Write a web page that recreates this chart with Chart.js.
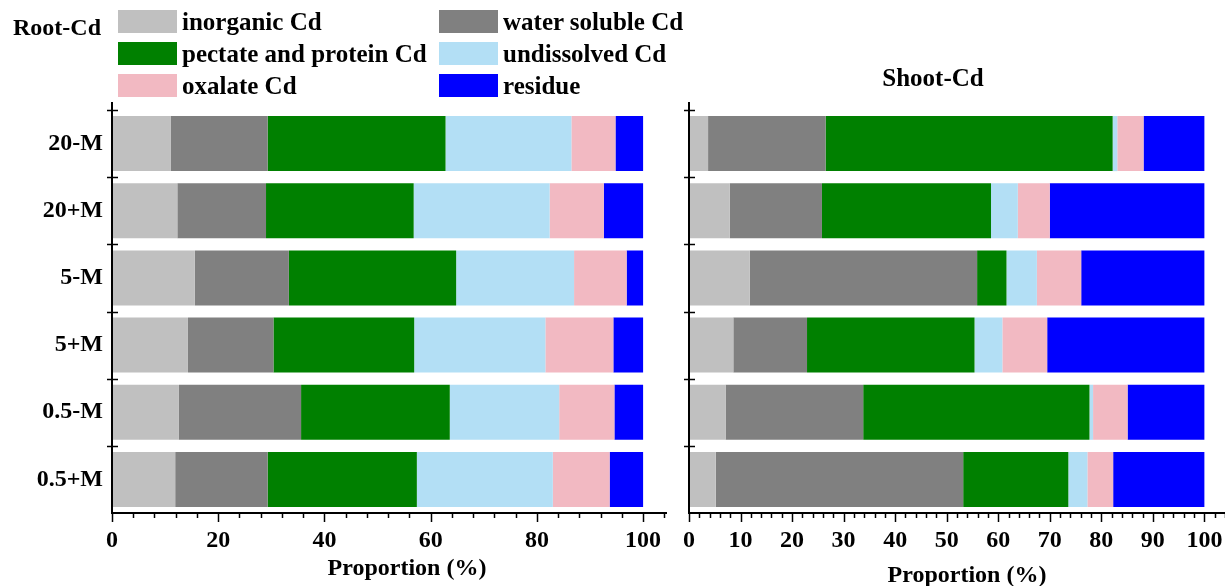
<!DOCTYPE html>
<html>
<head>
<meta charset="utf-8">
<script src="https://cdn.jsdelivr.net/npm/chart.js@4/dist/chart.umd.min.js"></script>
<style>
  html, body { margin:0; padding:0; background:#fff; }
  body { width:1225px; height:586px; position:relative; overflow:hidden;
         font-family:'Liberation Serif','Times New Roman',serif; font-weight:bold; color:#000; }
  canvas { position:absolute; top:0; }
  .txt { position:absolute; white-space:nowrap; line-height:1; }
  .box { position:absolute; }
</style>
</head>
<body>
<canvas id="root" width="680" height="586" style="left:0px"></canvas>
<canvas id="shoot" width="580" height="586" style="left:670px"></canvas>
<div id="overlay"></div>
<script>
// ---- data ----
const categories = ['20-M', '20+M', '5-M', '5+M', '0.5-M', '0.5+M'];
const seriesNames = ['inorganic Cd', 'water soluble Cd', 'pectate and protein Cd', 'undissolved Cd', 'oxalate Cd', 'residue'];
const seriesColors = ['#c0c0c0', '#808080', '#008000', '#b3dff5', '#f2b9c2', '#0000ff'];

// Root-Cd proportions (%)
const rootInorganic   = [11.1, 12.3, 15.6, 14.3, 12.6, 11.9];
const rootWater       = [18.2, 16.7, 17.7, 16.1, 23.0, 17.4];
const rootPectate     = [33.5, 27.8, 31.5, 26.5, 28.0, 28.1];
const rootUndissolved = [23.7, 25.6, 22.2, 24.7, 20.6, 25.6];
const rootOxalate     = [8.3, 10.2, 9.9, 12.8, 10.4, 10.7];
const rootResidue     = [5.2, 7.4, 3.1, 5.6, 5.4, 6.3];

// Shoot-Cd proportions (%)
const shootInorganic   = [3.7, 7.9, 11.8, 8.6, 7.1, 5.2];
const shootWater       = [22.8, 17.9, 44.1, 14.3, 26.7, 48.0];
const shootPectate     = [55.7, 32.8, 5.7, 32.5, 43.9, 20.4];
const shootUndissolved = [0.9, 5.2, 5.9, 5.4, 0.7, 3.7];
const shootOxalate     = [5.1, 6.2, 8.6, 8.7, 6.7, 5.0];
const shootResidue     = [11.8, 30.0, 23.9, 30.5, 14.9, 17.7];

const rootTicks  = [0, 20, 40, 60, 80, 100];
const shootTicks = [0, 10, 20, 30, 40, 50, 60, 70, 80, 90, 100];

// ---- helpers ----
const FONT = "'Liberation Serif', 'Times New Roman', serif";
Chart.defaults.font.family = FONT;
Chart.defaults.color = '#000';

function makeDatasets(arrs) {
  return arrs.map((d, i) => ({
    label: seriesNames[i], data: d, backgroundColor: seriesColors[i],
    borderWidth: 0, barPercentage: 0.82, categoryPercentage: 1.0
  }));
}

const axesPlugin = {
  id: 'axesPlugin',
  afterDraw(chart, args, opts) {
    const ctx = chart.ctx, ca = chart.chartArea;
    const xs = chart.scales.x, ys = chart.scales.y;
    ctx.save();
    ctx.strokeStyle = '#000';
    // x axis line
    ctx.lineWidth = 2;
    ctx.beginPath(); ctx.moveTo(ca.left - 1, ca.bottom); ctx.lineTo(ca.right, ca.bottom); ctx.stroke();
    // y axis line
    ctx.beginPath(); ctx.moveTo(ca.left, ca.top - 8); ctx.lineTo(ca.left, ca.bottom); ctx.stroke();
    // x ticks (major + minor)
    ctx.lineWidth = 1.5;
    for (let v = 0; v <= xs.max + 1e-9; v += opts.minor) {
      const isMajor = Math.abs(v / opts.major - Math.round(v / opts.major)) < 1e-6;
      const px = Math.round(xs.getPixelForValue(v)) + 0.5;
      ctx.beginPath(); ctx.moveTo(px, ca.bottom); ctx.lineTo(px, ca.bottom + (isMajor ? 9 : 5)); ctx.stroke();
    }
    // y ticks at category top edges
    for (let i = 0; i < categories.length; i++) {
      const c = ys.getPixelForValue(i);
      const next = ys.getPixelForValue(i + 1 < categories.length ? i + 1 : i - 1);
      const half = Math.abs(next - c) / 2;
      const py = Math.round(c - half) + 0.5;
      ctx.beginPath(); ctx.moveTo(ca.left - 5, py); ctx.lineTo(ca.left + 6, py); ctx.stroke();
    }
    ctx.restore();
  }
};

function makeChart(id, arrs, opt) {
  return new Chart(document.getElementById(id), {
    type: 'bar',
    data: { labels: categories, datasets: makeDatasets(arrs) },
    plugins: [axesPlugin],
    options: {
      indexAxis: 'y', responsive: false, animation: false, devicePixelRatio: 1,
      layout: { padding: { top: 110, right: opt.padRight, left: 0, bottom: 0 } },
      plugins: { legend: { display: false }, tooltip: { enabled: false },
                 axesPlugin: { minor: opt.minor, major: opt.major } },
      scales: {
        x: {
          type: 'linear', stacked: true, min: 0, max: opt.max,
          grid: { display: false, drawTicks: false }, border: { display: false },
          ticks: { stepSize: opt.major, padding: 13, autoSkip: false, font: { size: 24, weight: 'bold', lineHeight: 1.2 }, color: '#000', maxRotation: 0 },
          afterBuildTicks: s => { s.ticks = opt.tickVals.map(v => ({ value: v })); },
          afterFit: s => { s.height = 73; }
        },
        y: {
          type: 'category', stacked: true, offset: true,
          grid: { display: false, drawTicks: false, offset: true }, border: { display: false },
          ticks: { display: opt.showY, padding: 9, font: { size: 24, weight: 'bold' }, color: '#000' },
          afterFit: s => { s.width = opt.yWidth; }
        }
      }
    }
  });
}

makeChart('root',
  [rootInorganic, rootWater, rootPectate, rootUndissolved, rootOxalate, rootResidue],
  { max: 104.5, major: 20, minor: 4, tickVals: rootTicks, padRight: 13, yWidth: 112, showY: true });
makeChart('shoot',
  [shootInorganic, shootWater, shootPectate, shootUndissolved, shootOxalate, shootResidue],
  { max: 104, major: 10, minor: 2, tickVals: shootTicks, padRight: 25, yWidth: 17.5, showY: false });

// ---- text overlay: legend, panel titles, axis titles ----
const ov = document.getElementById('overlay');
function addText(t, left, cy, size, extra) {
  const d = document.createElement('div');
  d.className = 'txt'; d.textContent = t;
  d.style.fontSize = size + 'px';
  d.style.left = left + 'px';
  d.style.top = (cy - size / 2) + 'px';
  if (extra) Object.assign(d.style, extra);
  ov.appendChild(d);
  return d;
}
addText('Root-Cd', 13, 27, 24);
addText('Shoot-Cd', 833, 77, 25, { width: '200px', textAlign: 'center' });
addText('Proportion (%)', 307, 567, 24, { width: '200px', textAlign: 'center' });
addText('Proportion (%)', 867, 574, 24, { width: '200px', textAlign: 'center' });

const legendCols = [118, 439];
const legendRowsTop = [10, 42, 74];
seriesNames.forEach((name, i) => {
  const col = i % 2, row = Math.floor(i / 2);
  const b = document.createElement('div');
  b.className = 'box';
  Object.assign(b.style, { left: legendCols[col] + 'px', top: legendRowsTop[row] + 'px',
    width: '59px', height: '23px', background: seriesColors[i] });
  ov.appendChild(b);
  addText(name, legendCols[col] + 64, legendRowsTop[row] + 11.5, 25);
});
</script>
</body>
</html>
